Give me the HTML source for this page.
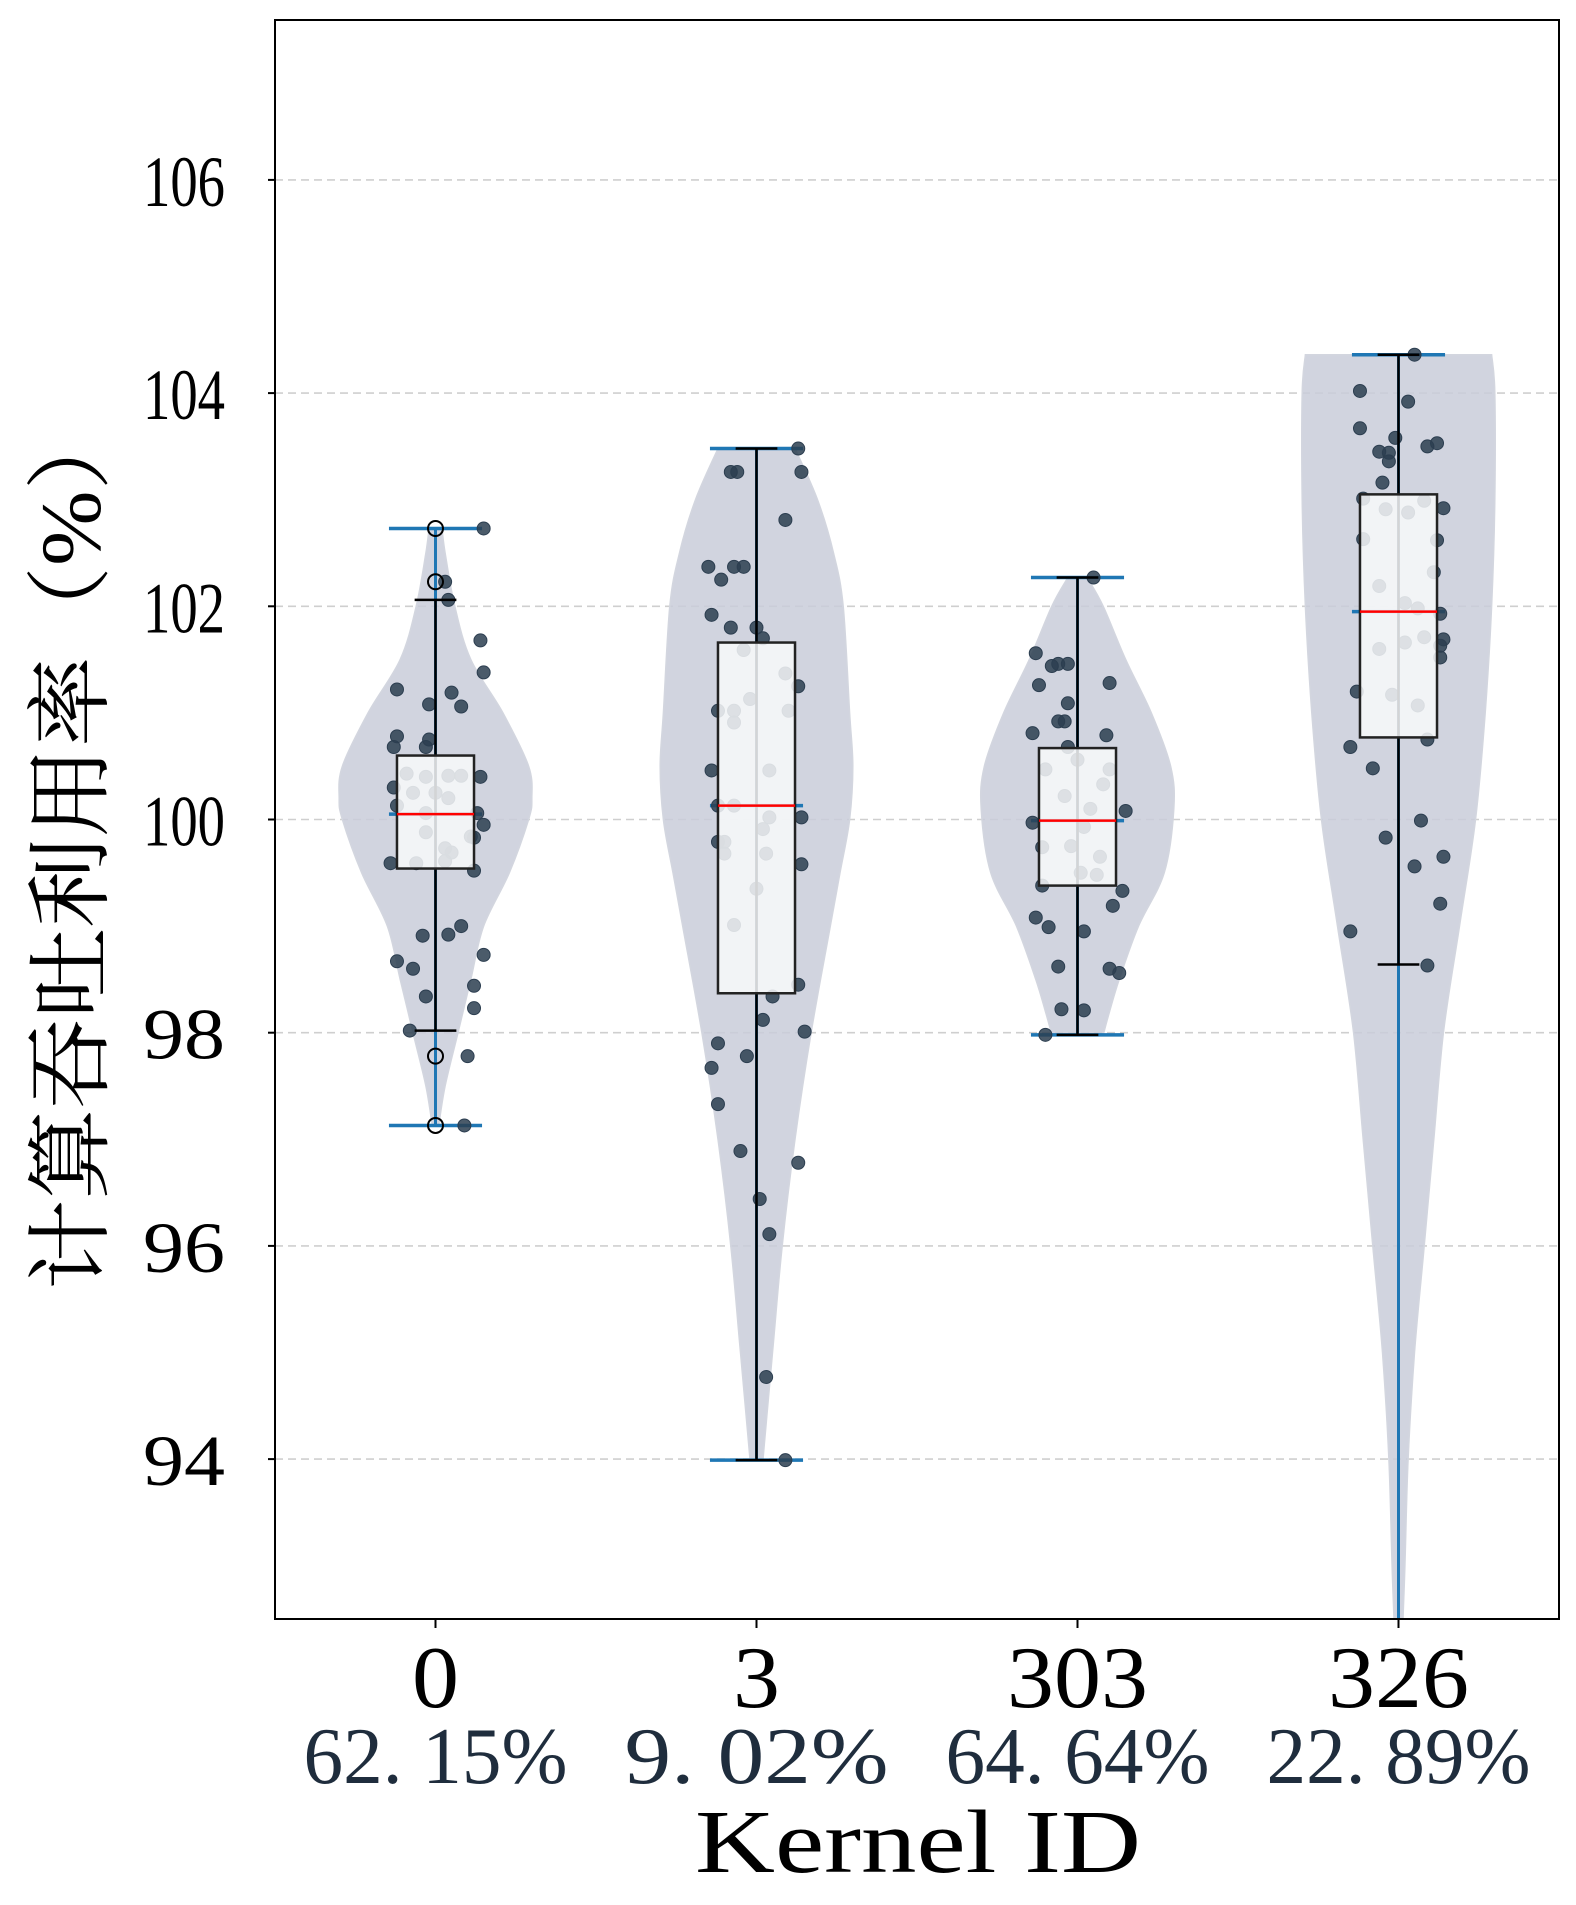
<!DOCTYPE html>
<html><head><meta charset="utf-8"><style>
html,body{margin:0;padding:0;background:#fff;width:1576px;height:1905px;overflow:hidden;}
svg{display:block;}
text{font-family:"Liberation Serif","Noto Serif CJK SC",serif;}
</style></head><body>
<svg id="chart" width="1576" height="1905" viewBox="0 0 1576 1905" xmlns="http://www.w3.org/2000/svg">
<defs><clipPath id="plotclip"><rect x="275" y="20" width="1284" height="1599"/></clipPath></defs>
<rect width="1576" height="1905" fill="#fff"/>
<g id="grid"></g>
<g id="plot" clip-path="url(#plotclip)"></g>
<rect x="275" y="20" width="1284" height="1599" fill="none" stroke="#000" stroke-width="2"/>
<g id="axes"></g>
<text transform="translate(100,845) rotate(-90)" text-anchor="middle" font-size="86" textLength="890" lengthAdjust="spacingAndGlyphs" fill="#000" style='font-family:"Liberation Serif","Noto Serif CJK SC",serif'>计算吞吐利用率（%）</text>
<text x="918" y="1872" text-anchor="middle" font-size="90" textLength="446" lengthAdjust="spacingAndGlyphs" fill="#000">Kernel ID</text>
</svg>
<script>
const categories = ["0","3","303","326"];
const shares = ["62. 15%","9. 02%","64. 64%","22. 89%"];
const yTicks = [94,96,98,100,102,104,106];

const k0Values = [102.73,102.23,102.06,101.68,101.38,101.22,101.19,101.06,101.08,100.78,100.68,100.68,100.75,100.43,100.40,100.41,100.41,100.40,100.30,100.25,100.25,100.20,100.13,100.06,100.06,99.95,99.88,99.84,99.83,99.73,99.69,99.59,99.59,99.61,99.52,99.00,98.91,98.92,98.73,98.67,98.60,98.44,98.23,98.34,98.02,97.78,97.13];
const k0Jitter = [.15,.03,.04,.14,.15,-.12,.05,.08,-.02,-.12,-.13,-.03,-.02,-.09,-.03,.04,.08,.14,-.13,-.07,0,.04,-.12,-.03,.13,.15,-.03,.11,.12,.03,.05,-.14,-.06,.03,.12,.08,-.04,.04,.15,-.12,-.07,.12,.12,-.03,-.08,.10,.09];
const k3Values = [103.48,103.26,103.26,103.26,102.81,102.37,102.37,102.37,102.25,101.92,101.80,101.80,101.70,101.59,101.37,101.25,101.13,101.02,101.02,101.02,100.91,100.46,100.46,100.13,100.13,100.02,100.02,99.91,99.79,99.79,99.68,99.68,99.58,99.35,99.01,98.45,98.34,98.12,98.01,97.90,97.78,97.67,97.33,96.89,96.78,96.44,96.11,94.77,93.99];
const k3Jitter = [.13,.14,-.06,-.08,.09,-.15,-.07,-.04,-.11,-.14,-.08,0,.02,-.04,.09,.13,-.02,-.12,-.07,.10,-.07,-.14,.04,-.12,-.07,.14,.04,.02,-.12,-.10,-.10,.03,.14,0,-.07,.13,.05,.02,.15,-.12,-.03,-.14,-.12,-.05,.13,.01,.04,.03,.09];
const k303Values = [102.27,101.56,101.46,101.46,101.44,101.28,101.26,101.09,100.81,100.92,100.92,100.79,100.68,100.56,100.47,100.47,100.22,100.10,100.33,100.08,99.97,99.93,99.74,99.75,99.65,99.48,99.50,99.38,99.33,99.08,98.99,98.95,99.19,98.60,98.56,98.62,98.22,98.21,97.98];
const k303Jitter = [.05,-.13,-.06,-.03,-.08,.10,-.12,-.03,-.14,-.06,-.04,.09,-.03,0,.10,-.10,-.04,.04,.08,.15,-.14,.02,-.11,-.02,.07,.06,.01,-.11,.14,-.13,-.09,.02,.11,.10,.13,-.06,-.05,.02,-.10];
const k326Values = [104.36,104.02,103.92,103.67,103.58,103.53,103.45,103.44,103.50,103.36,103.16,103.01,102.99,102.92,102.91,102.88,102.62,102.63,102.32,102.19,101.93,102.03,101.98,101.69,101.71,101.63,101.66,101.52,101.60,101.20,101.17,101.07,100.68,100.75,100.48,99.99,99.83,99.56,99.65,99.21,98.95,98.63];
const k326Jitter = [.05,-.12,.03,-.12,-.01,.12,-.06,-.03,.09,-.03,-.05,-.11,.08,.14,-.04,.03,.12,-.11,.11,-.06,.13,.02,.06,.14,.08,.13,.02,.13,-.06,-.13,-.02,.06,-.15,.09,-.08,.07,-.04,.05,.14,.13,-.15,.09];

const boxQ1 = [99.54,98.37,99.38,100.77];
const boxMedian = [100.05,100.13,99.99,101.95];
const boxQ3 = [100.60,101.66,100.67,103.05];
const whiskerLow = [98.02,93.99,97.98,98.64];
const whiskerHigh = [102.06,103.48,102.27,104.36];
const fliers0 = [102.73,102.23,97.78,97.13];
const violinMin = [97.13,93.99,97.98,88.0];
const violinMax = [102.73,103.48,102.27,104.36];
const violinMedian = [100.05,100.13,99.99,101.95];

const k0Levels = [102.73,102.5,102,101.5,101,100.5,100.2,100,99.5,99,98.5,98,97.5,97.13];
const k0Widths = [.02,.03,.06,.11,.21,.29,.30,.29,.23,.15,.11,.07,.03,.01];
const k3Levels = [103.48,103,102.5,102,101,100.5,100,99.5,99,98,97,96,95,93.99];
const k3Widths = [.12,.19,.24,.27,.29,.30,.29,.26,.23,.17,.12,.08,.05,.02];
const k303Levels = [102.27,102,101.5,101,100.5,100.1,99.5,99,98.5,98.2,97.98];
const k303Widths = [.03,.08,.15,.23,.29,.30,.27,.19,.13,.10,.08];
const k326Levels = [104.36,104,103,102,101,100,99,98,97,96,95,94,93,92,90,88];
const k326Widths = [.29,.30,.30,.29,.27,.24,.19,.14,.11,.08,.05,.03,.02,.01,.005,0];

const allValues=[k0Values,k3Values,k303Values,k326Values];
const allJitter=[k0Jitter,k3Jitter,k303Jitter,k326Jitter];
const allLevels=[k0Levels,k3Levels,k303Levels,k326Levels];
const allWidths=[k0Widths,k3Widths,k303Widths,k326Widths];
const allFliers=[fliers0,[],[],[]];

const NS="http://www.w3.org/2000/svg";
const X0=275,X1=1559,Y0=20,Y1=1619,YMIN=92.5,YMAX=107.5;
const catW=(X1-X0)/categories.length;
function xs(i){return X0+(i+0.5)*catW;}
function xo(i,d){return xs(i)+d*catW;}
function ys(v){return Y1-(v-YMIN)/(YMAX-YMIN)*(Y1-Y0);}
function mk(tag,attrs,parent){const e=document.createElementNS(NS,tag);for(const k in attrs)e.setAttribute(k,attrs[k]);parent.appendChild(e);return e;}
function smoothSide(pts){
  let d='';
  for(let k=0;k<pts.length-1;k++){
    const p0=pts[Math.max(0,k-1)],p1=pts[k],p2=pts[k+1],p3=pts[Math.min(pts.length-1,k+2)];
    const c1=[p1[0]+(p2[0]-p0[0])/6,p1[1]+(p2[1]-p0[1])/6];
    const c2=[p2[0]-(p3[0]-p1[0])/6,p2[1]-(p3[1]-p1[1])/6];
    d+=' C'+c1[0].toFixed(1)+','+c1[1].toFixed(1)+' '+c2[0].toFixed(1)+','+c2[1].toFixed(1)+' '+p2[0].toFixed(1)+','+p2[1].toFixed(1);
  }
  return d;
}

const grid=document.getElementById('grid'),plot=document.getElementById('plot'),axes=document.getElementById('axes');
yTicks.forEach(t=>{
  const g=mk('line',{x1:X0,x2:X1,y1:ys(t),y2:ys(t),stroke:'#cfcfcf','stroke-width':1.6,'stroke-dasharray':'8,5'},grid);
  
  
  const tk=mk('line',{x1:X0-7,x2:X0,y1:ys(t),y2:ys(t),stroke:'#000','stroke-width':2},axes);
  
  
  const tl=mk('text',{x:225,y:ys(t)+26,'text-anchor':'end','font-size':72,textLength:82,lengthAdjust:'spacingAndGlyphs',fill:'#000'},axes);
  tl.textContent=t;
  
  
});
categories.forEach((c,i)=>{
  const tk=mk('line',{x1:xs(i),x2:xs(i),y1:Y1,y2:Y1+9,stroke:'#000','stroke-width':2},axes);
  
  
  const tl=mk('text',{x:xs(i),y:1707,'text-anchor':'middle','font-size':88,textLength:c.length*47,lengthAdjust:'spacingAndGlyphs',fill:'#000'},axes);
  tl.textContent=c;
  
  
  const sl=mk('text',{x:xs(i),y:1783,'text-anchor':'middle','font-size':80,textLength:264,lengthAdjust:'spacingAndGlyphs',fill:'#1f2d3d'},axes);
  sl.textContent=shares[i];
  
  
});

categories.forEach((c,i)=>{
  const lv=allLevels[i],w=allWidths[i];
  const right=lv.map((l,k)=>[xo(i,w[k]),ys(l)]);
  const left=lv.map((l,k)=>[xo(i,-w[k]),ys(l)]).reverse();
  let d='M'+right[0][0].toFixed(1)+','+right[0][1].toFixed(1)+smoothSide(right)+' L'+left[0][0].toFixed(1)+','+left[0][1].toFixed(1)+smoothSide(left)+' Z';
  const v=mk('path',{d:d,fill:'#c9cdd9','fill-opacity':0.85,stroke:'#d3d6df','stroke-width':1.5},plot);
  
  
  const bl=mk('line',{x1:xs(i),x2:xs(i),y1:ys(violinMax[i]),y2:ys(violinMin[i]),stroke:'#1f77b4','stroke-width':3},plot);
  
  
  [violinMax[i],violinMin[i]].forEach((m,j)=>{
    const cp=mk('line',{x1:xo(i,-0.145),x2:xo(i,0.145),y1:ys(m),y2:ys(m),stroke:'#1f77b4','stroke-width':3.5},plot);
    
    
  });
  const vm=mk('line',{x1:xo(i,-0.145),x2:xo(i,0.145),y1:ys(violinMedian[i]),y2:ys(violinMedian[i]),stroke:'#1f77b4','stroke-width':3.5},plot);
  
  
  const vals=allValues[i],jit=allJitter[i];
  vals.forEach((val,k)=>{
    const p=mk('circle',{cx:xo(i,jit[k]),cy:ys(val),r:6.5,fill:'#2c3e50','fill-opacity':0.85,stroke:'#2c3e50','stroke-width':1},plot);
    
    
  });
  const wl=mk('line',{x1:xs(i),x2:xs(i),y1:ys(whiskerHigh[i]),y2:ys(whiskerLow[i]),stroke:'#000','stroke-width':2.5},plot);
  
  
  [whiskerHigh[i],whiskerLow[i]].forEach((m,j)=>{
    const cp=mk('line',{x1:xo(i,-0.065),x2:xo(i,0.065),y1:ys(m),y2:ys(m),stroke:'#000','stroke-width':2.5},plot);
    
    
  });
  const b=mk('rect',{x:xo(i,-0.12),y:ys(boxQ3[i]),width:0.24*catW,height:ys(boxQ1[i])-ys(boxQ3[i]),fill:'#f8f9fa','fill-opacity':0.85,stroke:'#222','stroke-width':2.5},plot);
  
  
  const md=mk('line',{x1:xo(i,-0.12),x2:xo(i,0.12),y1:ys(boxMedian[i]),y2:ys(boxMedian[i]),stroke:'#ff0000','stroke-width':2.5},plot);
  
  
  allFliers[i].forEach((f,k)=>{
    const fl=mk('circle',{cx:xs(i),cy:ys(f),r:7.5,fill:'none',stroke:'#000','stroke-width':2},plot);
    
    
  });
});
</script>
</body></html>
